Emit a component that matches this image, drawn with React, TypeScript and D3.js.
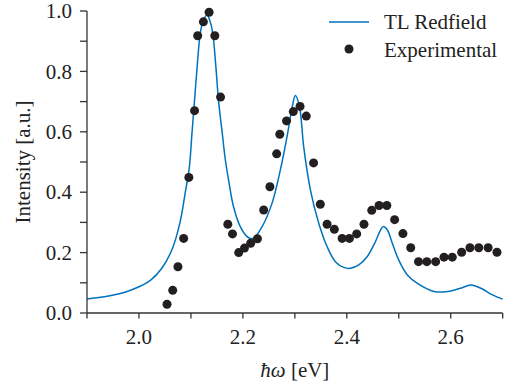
import React, { useRef, useEffect } from "react";
import * as d3 from "d3";

// experimental points (energy in eV, intensity)
const expEnergy = [
  2.054, 2.065, 2.075, 2.086, 2.096, 2.107, 2.113, 2.124, 2.135, 2.146, 2.157,
  2.171, 2.18, 2.192, 2.203, 2.215, 2.228, 2.24, 2.252, 2.265, 2.271, 2.284,
  2.297, 2.31, 2.322, 2.336, 2.349, 2.362, 2.376, 2.391, 2.405, 2.419, 2.433,
  2.448, 2.462, 2.477, 2.492, 2.508, 2.523, 2.538, 2.554, 2.571, 2.587, 2.603,
  2.621, 2.637, 2.654, 2.672, 2.689,
];
const expIntensity = [
  0.029, 0.075, 0.153, 0.247, 0.449, 0.67, 0.918, 0.964, 0.996, 0.918, 0.715,
  0.294, 0.262, 0.2, 0.215, 0.231, 0.246, 0.341, 0.418, 0.527, 0.592, 0.636,
  0.667, 0.684, 0.652, 0.497, 0.36, 0.294, 0.277, 0.247, 0.247, 0.262, 0.294,
  0.34, 0.356, 0.356, 0.309, 0.263, 0.216, 0.17, 0.17, 0.17, 0.185, 0.185,
  0.201, 0.216, 0.216, 0.216, 0.201,
];

// TL Redfield curve
const fitEnergy = [
  1.9, 1.944, 1.973, 2.0, 2.022, 2.044, 2.064, 2.079, 2.089, 2.097,
  2.102, 2.107, 2.112, 2.118, 2.124, 2.131, 2.137, 2.142, 2.148, 2.153, 2.16,
  2.166, 2.1725, 2.182, 2.195, 2.208, 2.2144, 2.2207, 2.237, 2.256, 2.272,
  2.285, 2.295, 2.301, 2.309, 2.317, 2.33, 2.346, 2.362, 2.378, 2.394, 2.407,
  2.423, 2.439, 2.455, 2.465, 2.47, 2.478, 2.4875, 2.5, 2.5165, 2.536, 2.568,
  2.594, 2.619, 2.639, 2.658, 2.6805, 2.7,
];
const fitIntensity = [
  0.046, 0.057, 0.069, 0.087, 0.108, 0.148, 0.212, 0.3, 0.398, 0.484,
  0.595, 0.705, 0.816, 0.926, 0.97, 0.987, 0.965, 0.926, 0.816, 0.705, 0.6,
  0.51, 0.44, 0.352, 0.286, 0.253, 0.247, 0.248, 0.286, 0.363, 0.473, 0.584,
  0.683, 0.72, 0.683, 0.551, 0.407, 0.297, 0.22, 0.17, 0.151, 0.148, 0.159,
  0.186, 0.236, 0.275, 0.286, 0.275, 0.231, 0.175, 0.126, 0.098, 0.071, 0.071,
  0.082, 0.093, 0.082, 0.06, 0.046,
];

const xMajor = [2.0, 2.2, 2.4, 2.6];
const xMinor = [1.9, 2.1, 2.3, 2.5, 2.7];
const yMajor = [0, 0.2, 0.4, 0.6, 0.8, 1.0];
const yMinor = [0.1, 0.3, 0.5, 0.7, 0.9];

const legendLabels = ["TL Redfield", "Experimental"];

const BLUE = "#0072bd";
const DOT = "#231f20";
const AXIS = "#333333";
const FONT = "Liberation Serif, Tinos, Times New Roman, Times, DejaVu Serif, serif";
const FS = 21;

const App = () => {
  const svgRef = useRef<SVGSVGElement | null>(null);

  useEffect(() => {
    if (!svgRef.current) return;
    const svg = d3.select(svgRef.current);
    svg.selectAll("*").remove();

    const x = d3.scaleLinear().domain([1.9, 2.7]).range([87, 502.7]);
    const y = d3.scaleLinear().domain([0, 1]).range([313, 11]);

    // fit line
    const line = d3
      .line<number>()
      .x((d) => x(d))
      .y((_, i) => y(fitIntensity[i]))
      .curve(d3.curveCatmullRom.alpha(0.5));

    svg
      .append("path")
      .attr("d", line(fitEnergy))
      .attr("fill", "none")
      .attr("stroke", BLUE)
      .attr("stroke-width", 1.5);

    // experimental dots
    svg
      .selectAll(".dot")
      .data(expEnergy)
      .enter()
      .append("circle")
      .attr("class", "dot")
      .attr("cx", (d) => x(d))
      .attr("cy", (_, i) => y(expIntensity[i]))
      .attr("r", 4.5)
      .attr("fill", DOT);

    // axes
    const xAxis = svg.append("g").attr("transform", `translate(0,${y(0)})`);
    xAxis
      .append("line")
      .attr("x1", x(1.9))
      .attr("x2", x(2.7))
      .attr("stroke", AXIS)
      .attr("stroke-width", 1.3);
    xAxis
      .selectAll(".xt")
      .data([...xMajor, ...xMinor])
      .enter()
      .append("line")
      .attr("x1", (d) => x(d))
      .attr("x2", (d) => x(d))
      .attr("y1", 0)
      .attr("y2", 5.5)
      .attr("stroke", AXIS)
      .attr("stroke-width", 1.3);
    xAxis
      .selectAll(".xl")
      .data(xMajor)
      .enter()
      .append("text")
      .attr("x", (d) => x(d))
      .attr("y", 31)
      .attr("text-anchor", "middle")
      .attr("font-family", FONT)
      .attr("font-size", FS)
      .attr("fill", "#222")
      .text((d) => d3.format(".1f")(d));

    const yAxis = svg.append("g").attr("transform", `translate(${x(1.9)},0)`);
    yAxis
      .append("line")
      .attr("y1", y(0))
      .attr("y2", y(1))
      .attr("stroke", AXIS)
      .attr("stroke-width", 1.3);
    yAxis
      .selectAll(".yt")
      .data([...yMajor, ...yMinor])
      .enter()
      .append("line")
      .attr("y1", (d) => y(d))
      .attr("y2", (d) => y(d))
      .attr("x1", 0)
      .attr("x2", -7)
      .attr("stroke", AXIS)
      .attr("stroke-width", 1.3);
    yAxis
      .selectAll(".yl")
      .data(yMajor)
      .enter()
      .append("text")
      .attr("x", -15)
      .attr("y", (d) => y(d))
      .attr("dy", "0.34em")
      .attr("text-anchor", "end")
      .attr("font-family", FONT)
      .attr("font-size", FS)
      .attr("fill", "#222")
      .text((d) => d3.format(".1f")(d));

    // axis titles
    svg
      .append("text")
      .attr("transform", `translate(30,${(y(0) + y(1)) / 2}) rotate(-90)`)
      .attr("text-anchor", "middle")
      .attr("font-family", FONT)
      .attr("font-size", FS)
      .attr("fill", "#222")
      .text("Intensity [a.u.]");

    const xt = svg
      .append("text")
      .attr("x", (x(1.9) + x(2.7)) / 2)
      .attr("y", 377)
      .attr("text-anchor", "middle")
      .attr("font-family", FONT)
      .attr("font-size", FS)
      .attr("fill", "#222");
    xt.append("tspan").attr("font-style", "italic").text("ħω");
    xt.append("tspan").text(" [eV]");

    // legend
    const legend = svg.append("g");
    legend
      .append("line")
      .attr("x1", 329)
      .attr("x2", 369)
      .attr("y1", 22)
      .attr("y2", 22)
      .attr("stroke", BLUE)
      .attr("stroke-width", 1.5);
    legend
      .append("circle")
      .attr("cx", 349)
      .attr("cy", 49)
      .attr("r", 4.5)
      .attr("fill", DOT);
    legend
      .selectAll(".lt")
      .data(legendLabels)
      .enter()
      .append("text")
      .attr("x", 384)
      .attr("y", (_, i) => 29 + i * 28)
      .attr("font-family", FONT)
      .attr("font-size", FS)
      .attr("fill", "#222")
      .text((d) => d);
  }, []);

  return (
    <svg
      ref={svgRef}
      width={516}
      height={390}
      style={{ position: "absolute", left: 0, top: 0, background: "#fff" }}
    ></svg>
  );
};

export default App;
